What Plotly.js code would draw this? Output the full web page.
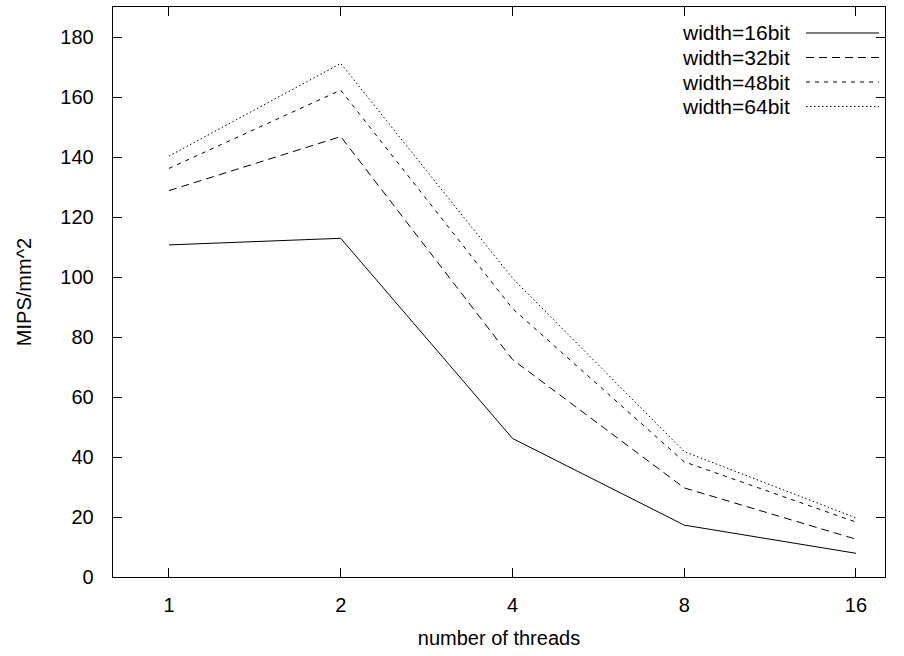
<!DOCTYPE html>
<html>
<head>
<meta charset="utf-8">
<script src="https://cdn.plot.ly/plotly-3.0.1.min.js"></script>
<style>html,body{margin:0;padding:0;background:#fff}#chart{width:904px;height:656px}</style>
</head>
<body>
<div id="chart"></div>
<script>
// Data
const threads = [1, 2, 4, 8, 16];
const threadLabels = ["1", "2", "4", "8", "16"];
const width16 = [110.7, 112.9, 46.2, 17.3, 7.9];
const width32 = [128.8, 146.8, 72.5, 29.7, 12.6];
const width48 = [136.2, 162.3, 89.5, 38.4, 18.3];
const width64 = [140.3, 171.2, 99.6, 41.8, 19.7];
const seriesNames = ["width=16bit", "width=32bit", "width=48bit", "width=64bit"];
const yTicks = [0, 20, 40, 60, 80, 100, 120, 140, 160, 180];

const seriesValues = [width16, width32, width48, width64];
const dashes = ["solid", "8px,5px", "4px,5px", "1.5px,2.5px"];

const traces = seriesValues.map((vals, i) => ({
  x: threads,
  y: vals,
  type: "scatter",
  mode: "lines",
  name: seriesNames[i],
  showlegend: false,
  line: {color: "#000", width: 1, dash: dashes[i]},
  hoverinfo: "x+y+name"
}));

const fam = "Liberation Sans, Arial, sans-serif";
const tickFont = {family: fam, size: 20, color: "#000"};
const titleFont = {family: fam, size: 20, color: "#000"};
const keyFont = {family: fam, size: 21, color: "#000"};

// Custom gnuplot-style key: text right-aligned, line sample on the right
const rowY = [0.9544, 0.9114, 0.8684, 0.8254];
const annotations = seriesNames.map((n, i) => ({
  xref: "paper", yref: "paper",
  x: 0.878, y: rowY[i],
  xanchor: "right", yanchor: "middle",
  text: n, showarrow: false, font: keyFont, borderpad: 0
}));
const shapes = seriesNames.map((n, i) => ({
  type: "line", xref: "paper", yref: "paper",
  x0: 0.8977, x1: 0.9922, y0: rowY[i], y1: rowY[i],
  line: {color: "#000", width: 1, dash: dashes[i]}
}));

const layout = {
  width: 904, height: 656,
  margin: {l: 113, r: 19, t: 7, b: 79},
  paper_bgcolor: "#fff", plot_bgcolor: "#fff",
  font: tickFont,
  showlegend: false,
  xaxis: {
    type: "log",
    range: [-0.0981, 1.2550],
    tickmode: "array", tickvals: threads, ticktext: threadLabels,
    tickfont: tickFont,
    ticks: "inside", ticklen: 9, tickwidth: 1, tickcolor: "#000",
    showline: true, linecolor: "#000", linewidth: 1.3, mirror: "allticks",
    showgrid: false, zeroline: false,
    ticklabelstandoff: 10,
    title: {text: "number of threads", font: titleFont, standoff: 15}
  },
  yaxis: {
    range: [0, 190],
    tickmode: "array", tickvals: yTicks,
    tickfont: tickFont,
    ticks: "inside", ticklen: 9, tickwidth: 1, tickcolor: "#000",
    showline: true, linecolor: "#000", linewidth: 1.3, mirror: "allticks",
    showgrid: false, zeroline: false,
    ticklabelstandoff: 14,
    title: {text: "MIPS/mm^2", font: titleFont, standoff: 23}
  },
  annotations: annotations,
  shapes: shapes
};

Plotly.newPlot("chart", traces, layout, {displayModeBar: false, staticPlot: true});
</script>
</body>
</html>
